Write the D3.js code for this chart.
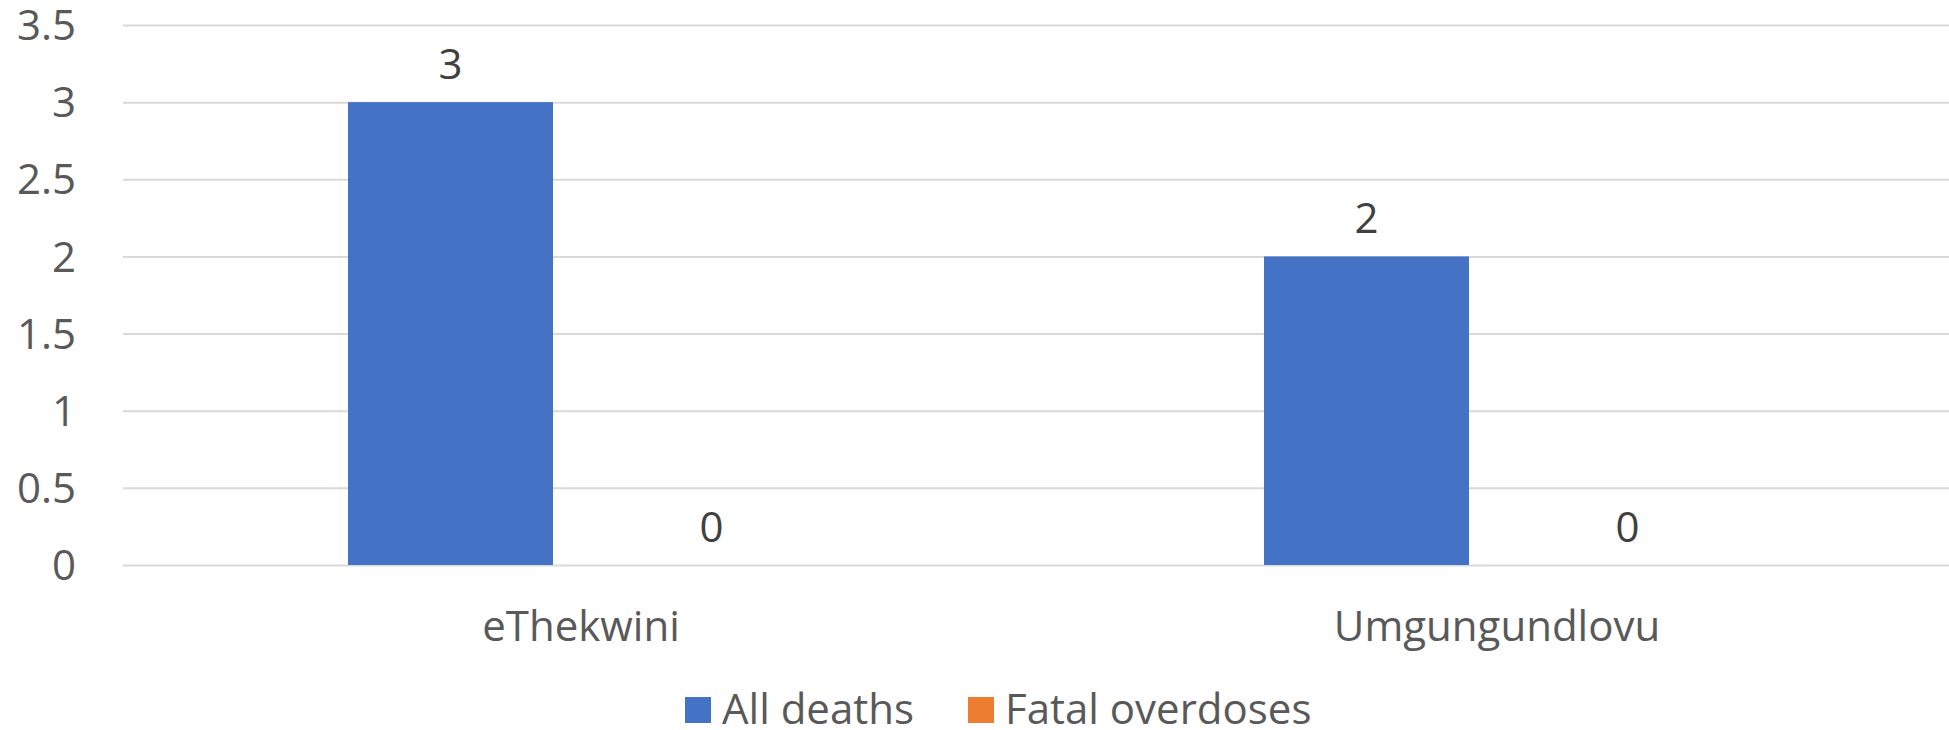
<!DOCTYPE html>
<html>
<head>
<meta charset="utf-8">
<script src="https://cdn.jsdelivr.net/npm/d3@7"></script>
<style>
html,body{margin:0;padding:0;background:#fff;}
svg{display:block;}
text{font-family:"Open Sans",sans-serif;}
</style>
</head>
<body>
<svg id="chart" width="1949" height="730"></svg>
<script>
const categories = ["eThekwini", "Umgungundlovu"];
const seriesNames = ["All deaths", "Fatal overdoses"];
const allDeaths = [3, 2];
const fatalOverdoses = [0, 0];
const yTicks = [0, 0.5, 1, 1.5, 2, 2.5, 3, 3.5];
const colors = ["#4472C4", "#ED7D31"];

const seriesValues = [allDeaths, fatalOverdoses];
const data = categories.map((c, i) => ({
  category: c,
  values: seriesNames.map((s, j) => ({ series: s, value: seriesValues[j][i], idx: j }))
}));

const svg = d3.select("#chart");
const W = 1949, H = 730;
const plotBottom = 565, plotTop = 25;
const FS = 42;

const y = d3.scaleLinear().domain([0, 3.5]).range([plotBottom, plotTop]);
const x0 = d3.scaleBand().domain(categories).range([123, 1955]).padding(0);
const x1 = d3.scaleBand().domain(seriesNames).range([0, x0.bandwidth()])
  .paddingInner(0.2146).paddingOuter(0.862);

// gridlines
const grid = d3.axisLeft(y).tickValues(yTicks).tickSize(-(W - 123)).tickFormat("");
const gG = svg.append("g").attr("transform", "translate(123,0)").call(grid);
gG.select(".domain").remove();
gG.selectAll("line").attr("stroke", "#D9D9D9").attr("stroke-width", 2);

// y tick labels
const yAxis = d3.axisLeft(y).tickValues(yTicks).tickSize(0).tickPadding(0).tickFormat(d => String(d));
const yG = svg.append("g").attr("transform", "translate(76,0)").call(yAxis);
yG.select(".domain").remove();
yG.selectAll("text").attr("font-size", FS).attr("fill", "#595959")
  .attr("font-family", "'Open Sans', sans-serif").attr("dy", "0.35em");

// bars
const groups = svg.append("g").selectAll("g").data(data).join("g")
  .attr("transform", d => `translate(${x0(d.category)},0)`);
groups.selectAll("rect").data(d => d.values).join("rect")
  .attr("x", d => x1(d.series))
  .attr("width", x1.bandwidth())
  .attr("y", d => y(d.value))
  .attr("height", d => y(0) - y(d.value))
  .attr("fill", d => colors[d.idx]);

// data labels
groups.selectAll("text.lbl").data(d => d.values).join("text")
  .attr("class", "lbl")
  .attr("x", d => x1(d.series) + x1.bandwidth() / 2)
  .attr("y", d => y(d.value) - 38)
  .attr("dy", "0.35em")
  .attr("text-anchor", "middle")
  .attr("font-size", FS)
  .attr("fill", "#404040")
  .text(d => d.value);

// x axis labels
const xAxis = d3.axisBottom(x0).tickSize(0).tickPadding(0);
const xG = svg.append("g").attr("transform", `translate(0,${plotBottom})`).call(xAxis);
xG.select(".domain").remove();
xG.selectAll("text").attr("font-size", FS).attr("fill", "#595959")
  .attr("font-family", "'Open Sans', sans-serif")
  .attr("dy", "0.35em").attr("y", 61);

// legend
const legendItems = [
  { name: seriesNames[0], color: colors[0], x: 685 },
  { name: seriesNames[1], color: colors[1], x: 968 }
];
const lg = svg.append("g").selectAll("g").data(legendItems).join("g")
  .attr("transform", d => `translate(${d.x},697)`);
lg.append("rect").attr("width", 26).attr("height", 26).attr("fill", d => d.color);
lg.append("text").attr("x", 37).attr("y", 12).attr("dy", "0.35em")
  .attr("font-size", FS).attr("fill", "#595959").text(d => d.name);
</script>
</body>
</html>
